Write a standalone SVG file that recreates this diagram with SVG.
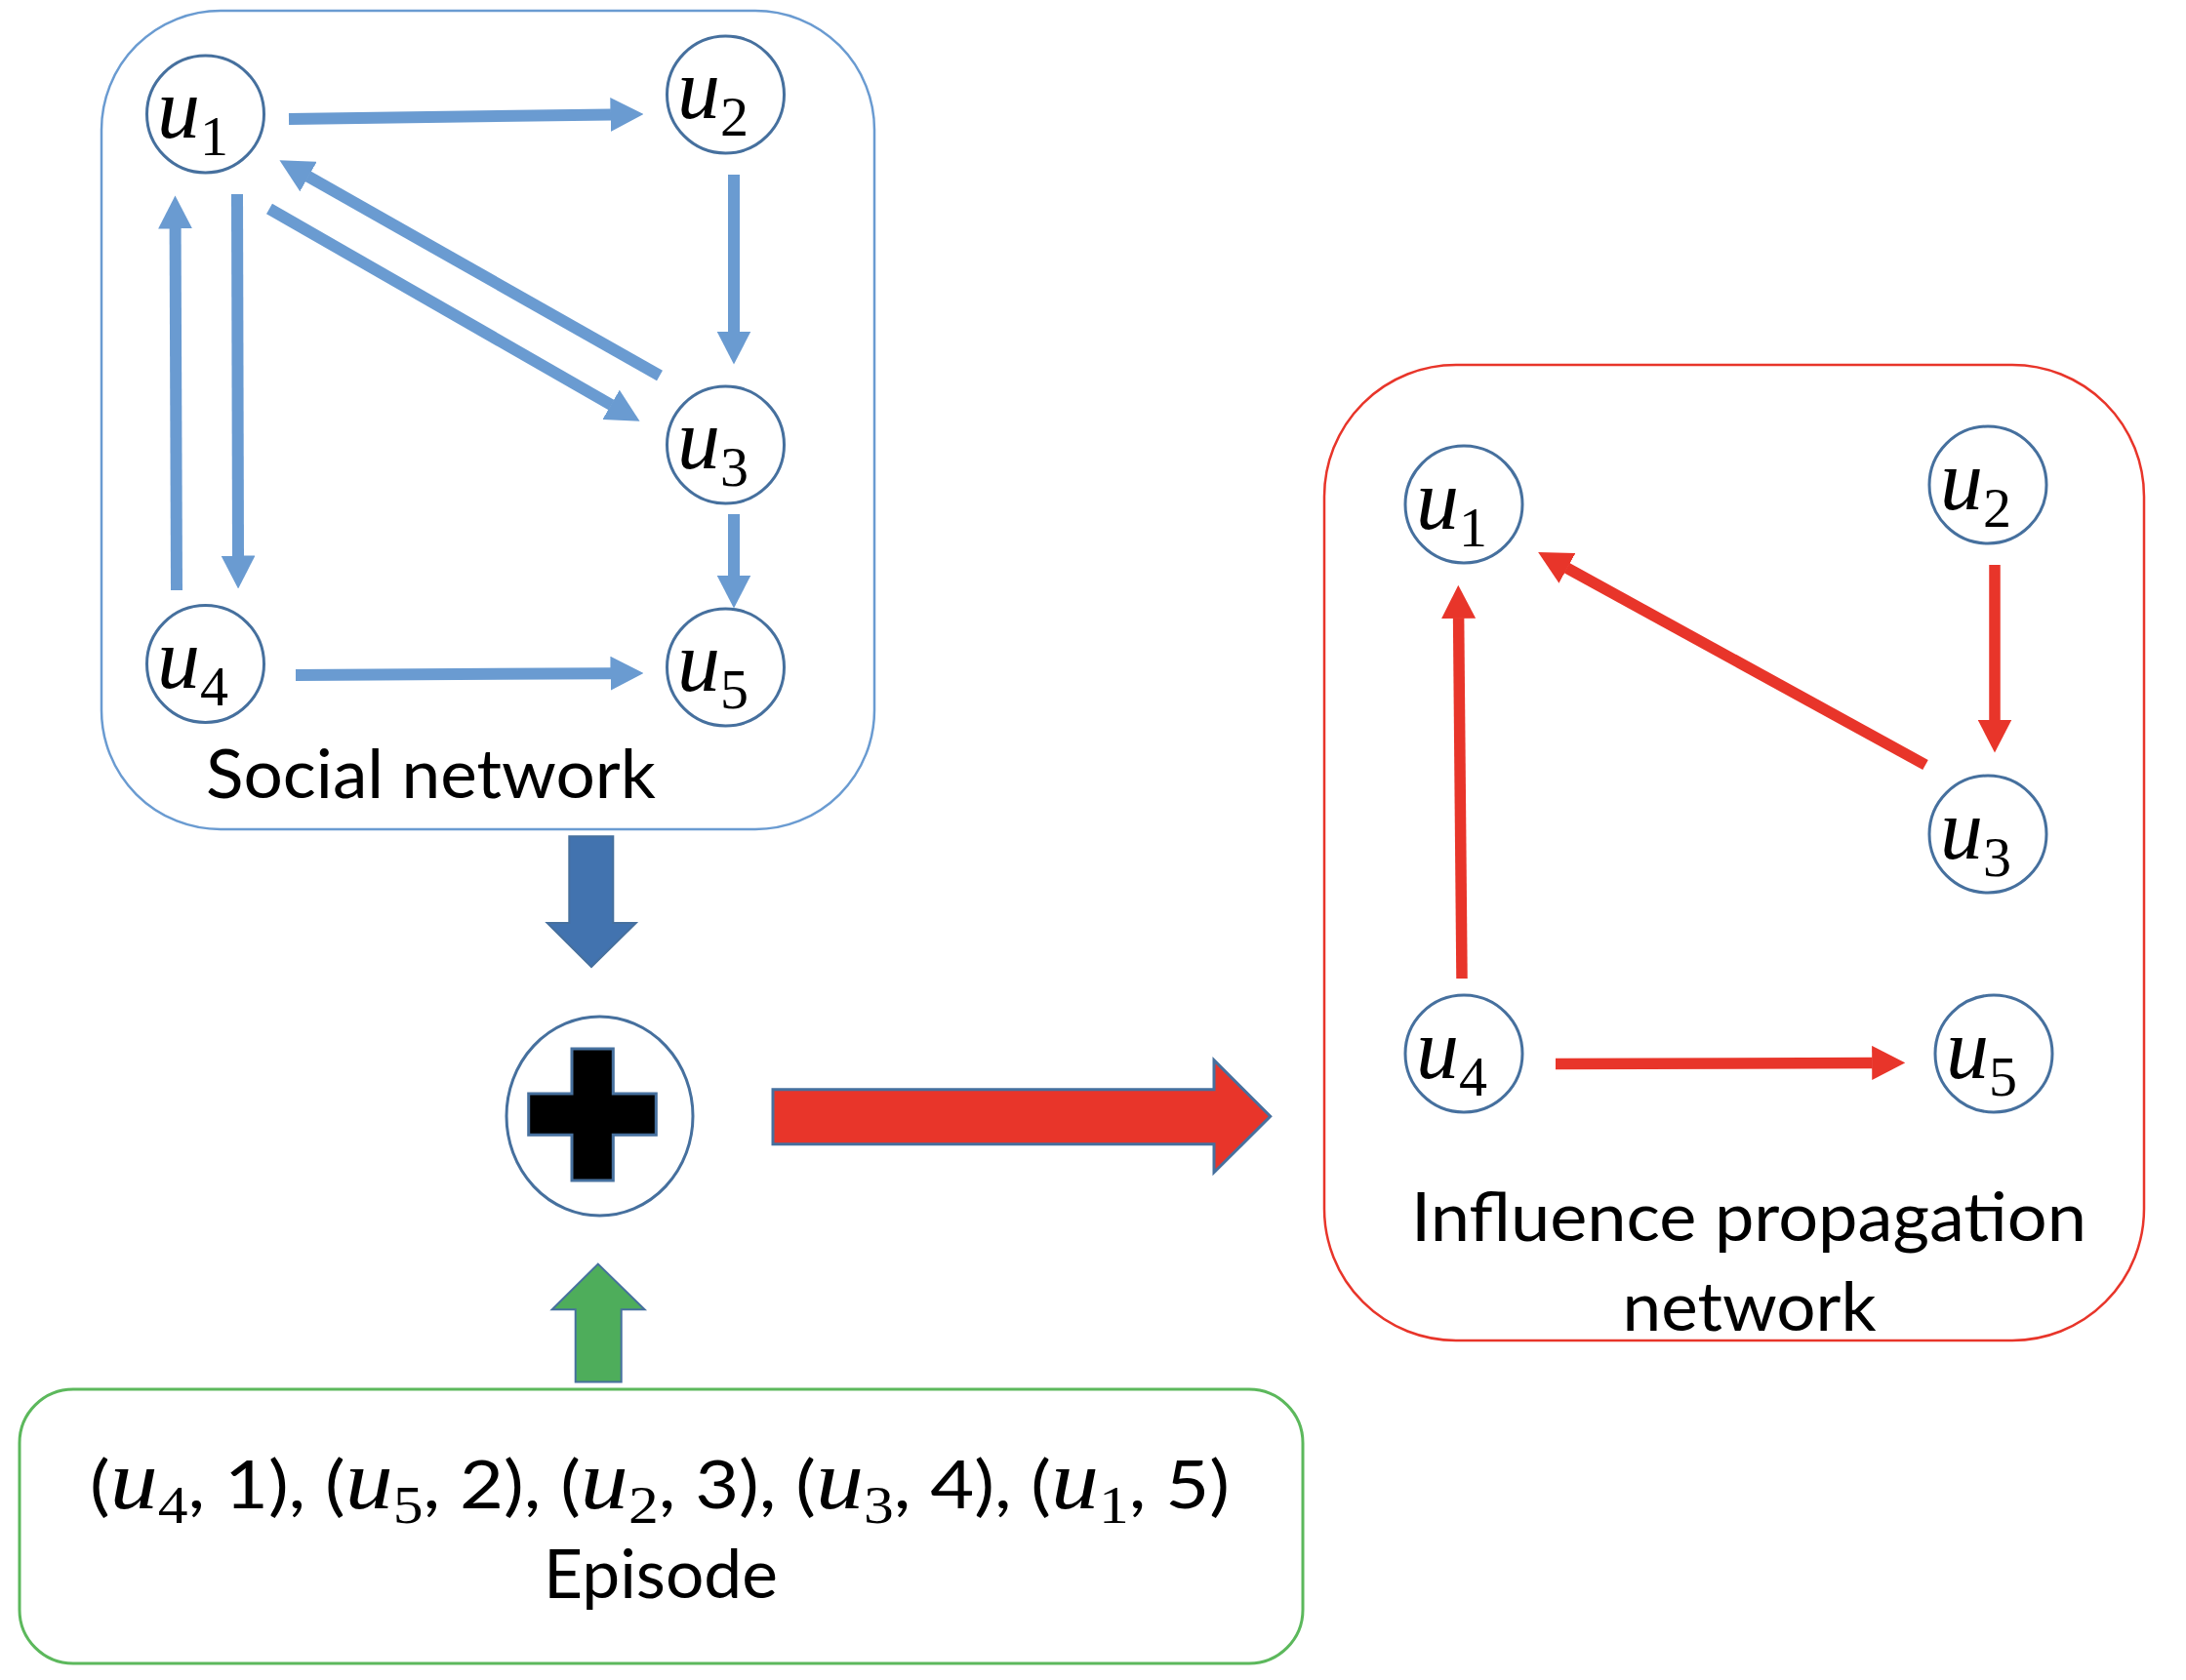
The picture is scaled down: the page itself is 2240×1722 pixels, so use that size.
<svg xmlns="http://www.w3.org/2000/svg" width="2240" height="1722" viewBox="0 0 2240 1722">
<style>
.node{fill:#ffffff;stroke:#46709E;stroke-width:3}
.lbl{font-family:"Liberation Serif",serif;font-size:88px;fill:#000}
.u{font-style:italic}
.sub{font-size:58px;font-style:normal}
.cap{font-family:Lato,"Open Sans",sans-serif;font-size:70px;fill:#000;text-anchor:middle}
.bl{stroke:#6A9BD1;stroke-width:12;fill:none}
.rd{stroke:#E8352A;stroke-width:11.5;fill:none}
</style>
<defs>
<marker id="hb" markerUnits="userSpaceOnUse" viewBox="0 0 34 35" markerWidth="34" markerHeight="35" refX="0.5" refY="17.5" orient="auto"><path d="M0,0 L34,17.5 L0,35 Z" fill="#6A9BD1"/></marker>
<marker id="hr" markerUnits="userSpaceOnUse" viewBox="0 0 34 35" markerWidth="34" markerHeight="35" refX="0.5" refY="17.5" orient="auto"><path d="M0,0 L34,17.5 L0,35 Z" fill="#E8352A"/></marker>
</defs>
<rect width="2240" height="1722" fill="#ffffff"/>

<g id="social-box"><rect x="104" y="11" width="792" height="839" rx="122" ry="122" fill="none" stroke="#6A9BD1" stroke-width="2.5"/>
<text class="cap" x="441.5" y="818" textLength="461" lengthAdjust="spacingAndGlyphs">Social network</text></g>

<g id="influence-box"><rect x="1357" y="374" width="840" height="1000" rx="135" ry="135" fill="none" stroke="#E8352A" stroke-width="2.5"/>
<text class="cap" x="1792" y="1272" textLength="692" lengthAdjust="spacingAndGlyphs">Influence propagation</text>
<text class="cap" x="1792.5" y="1364" textLength="260" lengthAdjust="spacingAndGlyphs">network</text></g>

<g id="episode-box"><rect x="20" y="1424" width="1315" height="281" rx="55" ry="55" fill="none" stroke="#5CB85C" stroke-width="3"/>
<text x="676" y="1546" text-anchor="middle" textLength="1168" lengthAdjust="spacingAndGlyphs" style="font-family:Lato,'Open Sans',sans-serif;font-size:68px;fill:#000"><tspan>(</tspan><tspan style="font-family:'Liberation Serif',serif;font-style:italic;font-size:86px">u</tspan><tspan style="font-family:'Liberation Serif',serif;font-size:54px" dy="15">4</tspan><tspan dy="-15">, 1), (</tspan><tspan style="font-family:'Liberation Serif',serif;font-style:italic;font-size:86px">u</tspan><tspan style="font-family:'Liberation Serif',serif;font-size:54px" dy="15">5</tspan><tspan dy="-15">, 2), (</tspan><tspan style="font-family:'Liberation Serif',serif;font-style:italic;font-size:86px">u</tspan><tspan style="font-family:'Liberation Serif',serif;font-size:54px" dy="15">2</tspan><tspan dy="-15">, 3), (</tspan><tspan style="font-family:'Liberation Serif',serif;font-style:italic;font-size:86px">u</tspan><tspan style="font-family:'Liberation Serif',serif;font-size:54px" dy="15">3</tspan><tspan dy="-15">, 4), (</tspan><tspan style="font-family:'Liberation Serif',serif;font-style:italic;font-size:86px">u</tspan><tspan style="font-family:'Liberation Serif',serif;font-size:54px" dy="15">1</tspan><tspan dy="-15">, 5)</tspan></text>
<text class="cap" x="677" y="1638" textLength="240" lengthAdjust="spacingAndGlyphs">Episode</text></g>

<g id="s-u1"><circle class="node" cx="210.5" cy="117" r="60"/><text class="lbl" x="161" y="141"><tspan class="u">u</tspan><tspan class="sub" dy="18">1</tspan></text></g>
<g id="s-u2"><circle class="node" cx="743.5" cy="97" r="60"/><text class="lbl" x="694" y="121"><tspan class="u">u</tspan><tspan class="sub" dy="18">2</tspan></text></g>
<g id="s-u3"><circle class="node" cx="743.5" cy="456" r="60"/><text class="lbl" x="694" y="480"><tspan class="u">u</tspan><tspan class="sub" dy="18">3</tspan></text></g>
<g id="s-u4"><circle class="node" cx="210.5" cy="680.5" r="60"/><text class="lbl" x="161" y="704.5"><tspan class="u">u</tspan><tspan class="sub" dy="18">4</tspan></text></g>
<g id="s-u5"><circle class="node" cx="743.5" cy="684" r="60"/><text class="lbl" x="694" y="708"><tspan class="u">u</tspan><tspan class="sub" dy="18">5</tspan></text></g>

<g id="i-u1"><circle class="node" cx="1500" cy="517" r="60"/><text class="lbl" x="1451" y="542"><tspan class="u">u</tspan><tspan class="sub" dy="18">1</tspan></text></g>
<g id="i-u2"><circle class="node" cx="2037" cy="497" r="60"/><text class="lbl" x="1988" y="522"><tspan class="u">u</tspan><tspan class="sub" dy="18">2</tspan></text></g>
<g id="i-u3"><circle class="node" cx="2037" cy="855" r="60"/><text class="lbl" x="1988" y="880"><tspan class="u">u</tspan><tspan class="sub" dy="18">3</tspan></text></g>
<g id="i-u4"><circle class="node" cx="1500" cy="1080" r="60"/><text class="lbl" x="1451" y="1105"><tspan class="u">u</tspan><tspan class="sub" dy="18">4</tspan></text></g>
<g id="i-u5"><circle class="node" cx="2043" cy="1080" r="60"/><text class="lbl" x="1994" y="1105"><tspan class="u">u</tspan><tspan class="sub" dy="18">5</tspan></text></g>

<g id="combine"><ellipse cx="614.5" cy="1144" rx="95.5" ry="102" fill="#ffffff" stroke="#46709E" stroke-width="3"/>
<path d="M586,1075 H628.3 V1121 H672.3 V1163.3 H628.3 V1210 H586 V1163.3 H541.7 V1121 H586 Z" fill="#000" stroke="#46709E" stroke-width="3"/></g>

<g id="connectors">
<line class="bl" x1="296" y1="122" x2="626" y2="117.5" marker-end="url(#hb)"/>
<line class="bl" x1="752" y1="179" x2="752" y2="340" marker-end="url(#hb)"/>
<line class="bl" x1="243" y1="199" x2="244" y2="570" marker-end="url(#hb)"/>
<line class="bl" x1="181" y1="605" x2="179.6" y2="234" marker-end="url(#hb)"/>
<line class="bl" x1="276" y1="214" x2="626.5" y2="415.1" marker-end="url(#hb)"/>
<line class="bl" x1="676" y1="385" x2="315.6" y2="180.8" marker-end="url(#hb)"/>
<line class="bl" x1="752" y1="527" x2="752" y2="590" marker-end="url(#hb)"/>
<line class="bl" x1="303" y1="692" x2="626" y2="690.2" marker-end="url(#hb)"/>

<line class="rd" x1="1498" y1="1003" x2="1494.6" y2="633.3" marker-end="url(#hr)"/>
<line class="rd" x1="1973" y1="784" x2="1605.5" y2="582.1" marker-end="url(#hr)"/>
<line class="rd" x1="2044" y1="579" x2="2044" y2="738" marker-end="url(#hr)"/>
<line class="rd" x1="1594" y1="1090.6" x2="1918.7" y2="1089.4" marker-end="url(#hr)"/>

<polygon points="583.3,857.3 628.3,857.3 628.3,946 651.7,946 606,991 560.7,946 583.3,946" fill="#4273AF" stroke="#46709E" stroke-width="2"/>
<polygon points="792,1116.7 1244,1116.7 1244,1086.7 1301.7,1144.3 1244,1201.7 1244,1172.7 792,1172.7" fill="#E8352A" stroke="#46709E" stroke-width="3"/>
<polygon points="589.7,1416.6 589.7,1342.3 565.7,1342.3 612.8,1295.6 660.6,1342.3 636.7,1342.3 636.7,1416.6" fill="#4EAD5B" stroke="#46709E" stroke-width="2"/>
</g>
</svg>
